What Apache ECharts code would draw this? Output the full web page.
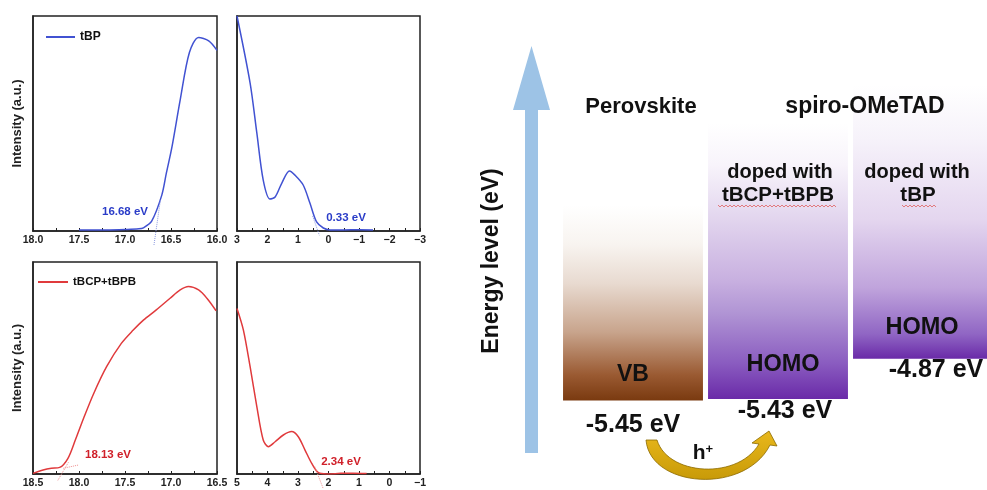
<!DOCTYPE html>
<html>
<head>
<meta charset="utf-8">
<script src="https://cdn.jsdelivr.net/npm/echarts@6.0.0/dist/echarts.min.js"></script>
<style>
html, body { margin: 0; padding: 0; background: #fff; }
#main { width: 987px; height: 490px; }
</style>
</head>
<body>
<div id="main"></div>
<script>
// tBP: 二次电子截止边 (左上) 和 价带边 (右上)
var tbpCutX = [17.50, 17.20, 17.00, 16.85, 16.80, 16.71, 16.60, 16.55, 16.49, 16.40, 16.30, 16.20, 16.09, 16.00];
var tbpCutY = [0.5, 0.5, 0.7, 1.0, 1.5, 4.6, 16.7, 27, 39, 61, 83, 90, 88.4, 84];
var tbpValX = [3.0, 2.57, 2.35, 2.14, 1.92, 1.75, 1.53, 1.28, 1.10, 0.83, 0.61, 0.39, 0.17, -0.05, -0.5, -1.0, -1.46];
var tbpValY = [100, 68.8, 45.6, 23.7, 14.9, 15.8, 22.3, 27.9, 26, 21.4, 13, 4.2, 1.4, 0.5, 0.5, 0.6, 0.5];

// tBCP+tBPB: 截止边 (左下) 和 价带边 (右下)
var mixCutX = [18.50, 18.39, 18.30, 18.21, 18.12, 18.04, 17.95, 17.84, 17.70, 17.54, 17.41, 17.30, 17.16, 17.01, 16.90, 16.81, 16.70, 16.61, 16.51];
var mixCutY = [0.3, 1.9, 2.7, 3.1, 7.4, 16, 26.3, 38, 50.6, 61.6, 67.9, 72.6, 77.4, 82.9, 86.8, 88.4, 86.8, 82.9, 77];
var mixValX = [5.0, 4.79, 4.57, 4.35, 4.14, 3.97, 3.75, 3.48, 3.21, 2.99, 2.77, 2.55, 2.33, 2.06, 1.6, 1.2, 0.75];
var mixValY = [78.1, 67.9, 50.6, 31.8, 16, 12.9, 15.2, 18.4, 20, 17.6, 11.3, 5, 0.6, 0, 0.3, 0.4, 0.2];

// 切线 (虚线)
var tbpCutTanX = [16.685, 16.615];
var tbpCutTanY = [-6.5, 14.5];
var tbpValTanX = [0.52, 0.30];
var tbpValTanY = [7, -2];
var mixCutTanX = [18.23, 18.115];
var mixCutTanY = [-3, 5.5];
var mixBaseTanX = [18.17, 18.0];
var mixBaseTanY = [2.7, 4.3];
var mixValTanX = [2.45, 2.17];
var mixValTanY = [3.5, -7];

var cutLabels = ['16.68 eV', '18.13 eV'];
var valLabels = ['0.33 eV', '2.34 eV'];

// 能级图
var bandNames = ['Perovskite', 'tBCP+tBPB', 'tBP'];
var bandLevels = [-5.45, -5.43, -4.87];
var bandTops = [-2.74, -1.6, -1.07];

var BLUE = '#4152d2', RED = '#e03a3c';
var FONT = 'Liberation Sans, Arial, sans-serif';

function zip(xs, ys) {
    var d = [];
    for (var i = 0; i < xs.length; i++) d.push([xs[i], ys[i]]);
    return d;
}

function eAxis(gi, min, max, step, fmt) {
    return {
        gridIndex: gi, type: 'value', inverse: true, min: min, max: max, interval: step,
        axisLine: { show: true, onZero: false, lineStyle: { color: '#222', width: 1.5 } },
        axisTick: { show: true, inside: true, length: 3, lineStyle: { color: '#222' } },
        minorTick: { show: true, splitNumber: 2, length: 3, lineStyle: { color: '#222' } },
        splitLine: { show: false },
        axisLabel: { margin: 4, fontSize: 10.5, fontWeight: 'bold', color: '#222', fontFamily: FONT, formatter: fmt }
    };
}
function yAxisOf(gi, name) {
    return {
        gridIndex: gi, type: 'value', min: 0, max: 100,
        axisLine: { show: true, onZero: false, lineStyle: { color: '#222', width: 1.5 } },
        axisTick: { show: false }, axisLabel: { show: false }, splitLine: { show: false },
        name: name, nameLocation: 'middle', nameRotate: 90, nameGap: 9,
        nameTextStyle: { fontSize: 13, fontWeight: 'bold', color: '#222', fontFamily: FONT }
    };
}
var fmt1 = function (v) { return v.toFixed(1); };
var fmtInt = function (v) { return v < 0 ? '\u2212' + (-v) : String(v); };

function curve(name, xi, data, color) {
    return {
        name: name, type: 'line', xAxisIndex: xi, yAxisIndex: xi, data: data,
        smooth: 0.3, showSymbol: false, color: color,
        lineStyle: { color: color, width: 1.5 }
    };
}
function tangent(xi, data, color) {
    return {
        type: 'line', xAxisIndex: xi, yAxisIndex: xi, data: data, clip: false,
        showSymbol: false, silent: true,
        lineStyle: { color: color, width: 1, type: 'dotted' }
    };
}

// 贝塞尔曲线采样，用于 h+ 弯箭头
function bez(p0, p1, p2, p3, n) {
    var pts = [];
    for (var i = 0; i <= n; i++) {
        var t = i / n, u = 1 - t;
        pts.push([
            u * u * u * p0[0] + 3 * u * u * t * p1[0] + 3 * u * t * t * p2[0] + t * t * t * p3[0],
            u * u * u * p0[1] + 3 * u * u * t * p1[1] + 3 * u * t * t * p2[1] + t * t * t * p3[1]
        ]);
    }
    return pts;
}
var hArrow = bez([646, 440], [650, 488], [745, 495], [770, 445], 30)
    .concat([[777, 446], [769, 431], [752, 443]])
    .concat(bez([759, 444], [738, 480], [668, 476], [657, 440], 30));

function squiggle(x0, x1, y) {
    var pts = [];
    for (var x = x0, k = 0; x <= x1; x += 2, k++) pts.push([x, y + (k % 2 ? 1 : -1)]);
    return pts;
}

function txt(text, x, y, size, color, weight, extra) {
    var el = {
        type: 'text', x: x, y: y, z: 100,
        style: {
            text: text, fill: color || '#111', align: 'center', verticalAlign: 'middle',
            font: (weight || 'bold') + ' ' + size + 'px ' + FONT
        }
    };
    for (var k in extra || {}) el[k] = extra[k];
    return el;
}

var bandFills = [
    new echarts.graphic.LinearGradient(0, 0, 0, 1, [
        { offset: 0, color: '#ffffff' }, { offset: 0.2, color: '#f8f4f0' },
        { offset: 0.4, color: '#e8dad0' }, { offset: 0.65, color: '#c8a48c' },
        { offset: 0.87, color: '#9a5a32' }, { offset: 1, color: '#7a3a10' }]),
    new echarts.graphic.LinearGradient(0, 0, 0, 1, [
        { offset: 0, color: '#ffffff' }, { offset: 0.15, color: '#f8f4fb' },
        { offset: 0.33, color: '#e4d8ef' }, { offset: 0.57, color: '#c8b0e0' },
        { offset: 0.69, color: '#b094d4' }, { offset: 0.87, color: '#8a5cc0' },
        { offset: 1, color: '#6a2aa8' }]),
    new echarts.graphic.LinearGradient(0, 0, 0, 1, [
        { offset: 0, color: '#ffffff' }, { offset: 0.2, color: '#f6f2fa' },
        { offset: 0.49, color: '#e4d6ef' }, { offset: 0.74, color: '#c0a4dc' },
        { offset: 0.91, color: '#9066c4' }, { offset: 1, color: '#6a2aa8' }])
];

var bandData = bandNames.map(function (n, i) { return [i, bandLevels[i], bandTops[i]]; });
var levelText = bandLevels.map(function (v) { return v.toFixed(2) + ' eV'; });

var myChart = echarts.init(document.getElementById('main'));

var option = {
    animation: false,
    backgroundColor: '#fff',
    grid: [
        { left: 33, top: 16, width: 184, height: 215, show: true, borderColor: '#222', borderWidth: 1.5 },
        { left: 237, top: 16, width: 183, height: 215, show: true, borderColor: '#222', borderWidth: 1.5 },
        { left: 33, top: 262, width: 184, height: 212, show: true, borderColor: '#222', borderWidth: 1.5 },
        { left: 237, top: 262, width: 183, height: 212, show: true, borderColor: '#222', borderWidth: 1.5 },
        // 每个能带占 145px，右侧被画面边缘截断
        { left: 560.5, top: 80, width: 426.5, height: 360 }
    ],
    legend: [
        { data: ['tBP'], left: 46, top: 31, padding: 0, itemWidth: 29, itemHeight: 2, icon: 'rect',
          textStyle: { fontSize: 12, fontWeight: 'bold', color: '#111', fontFamily: FONT } },
        { data: ['tBCP+tBPB'], left: 38, top: 276, padding: 0, itemWidth: 30, itemHeight: 2, icon: 'rect',
          textStyle: { fontSize: 11.5, fontWeight: 'bold', color: '#111', fontFamily: FONT } }
    ],
    xAxis: [
        eAxis(0, 16, 18, 0.5, fmt1),
        eAxis(1, -3, 3, 1, fmtInt),
        eAxis(2, 16.5, 18.5, 0.5, fmt1),
        eAxis(3, -1, 5, 1, fmtInt),
        { gridIndex: 4, type: 'value', min: -0.5, max: -0.5 + 426.5 / 145, show: false }
    ],
    yAxis: [
        yAxisOf(0, 'Intensity (a.u.)'),
        yAxisOf(1, ''),
        yAxisOf(2, 'Intensity (a.u.)'),
        yAxisOf(3, ''),
        { gridIndex: 4, type: 'value', min: -6, max: -1, show: false }
    ],
    series: [
        curve('tBP', 0, zip(tbpCutX, tbpCutY), BLUE),
        curve('tBP', 1, zip(tbpValX, tbpValY), BLUE),
        curve('tBCP+tBPB', 2, zip(mixCutX, mixCutY), RED),
        curve('tBCP+tBPB', 3, zip(mixValX, mixValY), RED),
        tangent(0, zip(tbpCutTanX, tbpCutTanY), '#8c9ae0'),
        tangent(1, zip(tbpValTanX, tbpValTanY), '#8c9ae0'),
        tangent(2, zip(mixCutTanX, mixCutTanY), '#ef9090'),
        tangent(2, zip(mixBaseTanX, mixBaseTanY), '#ef9090'),
        tangent(3, zip(mixValTanX, mixValTanY), '#ef9090'),
        {
            type: 'custom', xAxisIndex: 4, yAxisIndex: 4, data: bandData, silent: true, clip: false,
            renderItem: function (params, api) {
                var i = api.value(0);
                var lo = api.coord([i, api.value(1)]);
                var hi = api.coord([i, api.value(2)]);
                var w = api.size([1, 0])[0] * 0.965;
                return {
                    type: 'rect',
                    shape: { x: lo[0] - w / 2, y: hi[1], width: w, height: lo[1] - hi[1] },
                    style: { fill: bandFills[i] }
                };
            }
        }
    ],
    graphic: [
        // 能级箭头
        { type: 'polygon', z: 50, shape: { points: [[525, 453], [538, 453], [538, 110], [550, 110], [531.5, 46], [513, 110], [525, 110]] },
          style: { fill: '#9dc3e6' } },
        txt('Energy level (eV)', 492, 261, 23, '#111', 'bold', { rotation: Math.PI / 2 }),
        txt('Perovskite', 641, 107, 22),
        txt('spiro-OMeTAD', 865, 107, 23),
        txt('doped with', 780, 172, 20),
        txt('tBCP+tBPB', 778, 195, 20.5),
        txt('doped with', 917, 172, 20),
        txt('tBP', 918, 195, 20.5),
        { type: 'polyline', z: 100, shape: { points: squiggle(718, 837, 206) }, style: { stroke: '#e06060', lineWidth: 0.8, fill: null } },
        { type: 'polyline', z: 100, shape: { points: squiggle(902, 937, 206) }, style: { stroke: '#e06060', lineWidth: 0.8, fill: null } },
        txt('VB', 633, 375, 23),
        txt('HOMO', 783, 365, 23.5),
        txt('HOMO', 922, 328, 23.5),
        txt(levelText[0], 633, 425, 25),
        txt(levelText[1], 785, 411, 25),
        txt(levelText[2], 936, 370, 25),
        // 空穴转移箭头
        { type: 'polygon', z: 100, shape: { points: hArrow },
          style: { fill: new echarts.graphic.LinearGradient(0, 0, 0, 1, [
              { offset: 0, color: '#e9b81c' }, { offset: 1, color: '#c89a08' }]),
              stroke: '#8c6a00', lineWidth: 0.8 } },
        {
            type: 'text', x: 703, y: 453, z: 100,
            style: {
                text: 'h{s|+}', align: 'center', verticalAlign: 'middle', fill: '#111',
                font: 'bold 21px ' + FONT,
                rich: { s: { fontSize: 13, fontWeight: 'bold', fontFamily: FONT, fill: '#111', verticalAlign: 'top', padding: [0, 0, 8, 0] } }
            }
        },
        // 小图注释
        txt(cutLabels[0], 125, 212, 11.5, '#2a3cc8'),
        txt(valLabels[0], 346, 218, 11.5, '#2a3cc8'),
        txt(cutLabels[1], 108, 455, 11.5, '#d0202a'),
        txt(valLabels[1], 341, 462, 11.5, '#d0202a')
    ]
};

myChart.setOption(option);
</script>
</body>
</html>
